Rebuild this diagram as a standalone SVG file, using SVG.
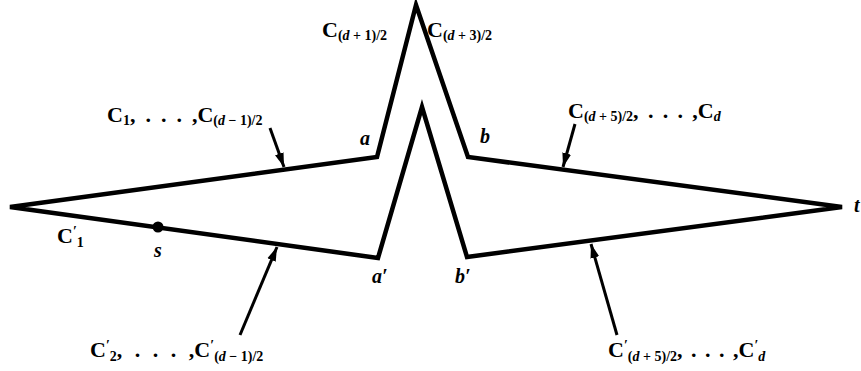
<svg xmlns="http://www.w3.org/2000/svg" width="861" height="371" viewBox="0 0 861 371">
<style>
.m{font-family:"Liberation Serif",serif;font-weight:bold;font-size:22px;fill:#000}
.s{font-size:14px}
.i{font-style:italic}
.v{font-family:"Liberation Serif",serif;font-style:italic;font-weight:bold;font-size:20px;fill:#000}
.outline{fill:none;stroke:#000;stroke-width:4.5;stroke-linejoin:miter;stroke-miterlimit:4}
.arrow{stroke:#000;stroke-width:3;fill:none}
</style>
<defs>
<marker id="ah" markerUnits="userSpaceOnUse" markerWidth="16" markerHeight="10" viewBox="-14 -5 16 10" refX="0" refY="0" orient="auto">
<path d="M0,0 L-14,-4.5 L-14,4.5 Z" fill="#000"/>
</marker>
</defs>
<rect width="861" height="371" fill="#fff"/>
<g id="figure">
<path class="outline" d="M10,207 L377,157 L416,5 L468,157 L842,207 L467,257 L422,107 L378,258 Z"/>
<circle id="s-dot" cx="158" cy="227" r="5.5" fill="#000"/>
</g>
<g id="connectors">
<line class="arrow" x1="270" y1="128" x2="284" y2="167" marker-end="url(#ah)"/>
<line class="arrow" x1="575" y1="124" x2="563" y2="167" marker-end="url(#ah)"/>
<line class="arrow" x1="240" y1="335" x2="277" y2="247" marker-end="url(#ah)"/>
<line class="arrow" x1="617" y1="335" x2="591" y2="244" marker-end="url(#ah)"/>
</g>
<g id="label-c-d1">
<text class="m" x="322" y="37">C<tspan class="s" dy="3">(<tspan class="i">d</tspan> + 1)/2</tspan></text>
</g>
<g id="label-c-d3">
<text class="m" x="427" y="37">C<tspan class="s" dy="3">(<tspan class="i">d</tspan> + 3)/2</tspan></text>
</g>
<g id="label-c1">
<text class="m" x="107" y="122">C<tspan class="s" dy="3">1</tspan><tspan dy="-3" word-spacing="4.5">, . . . ,C</tspan><tspan class="s" dy="3">(<tspan class="i">d</tspan> − 1)/2</tspan></text>
</g>
<g id="label-c-d5">
<text class="m" x="568" y="118">C<tspan class="s" dy="3">(<tspan class="i">d</tspan> + 5)/2</tspan><tspan dy="-3" word-spacing="3.8">, . . . ,C</tspan><tspan class="s i" dy="3">d</tspan></text>
</g>
<g id="label-c1p">
<text class="m" x="57" y="243">C<tspan class="s" dy="-7">′</tspan><tspan class="s" dy="11">1</tspan></text>
</g>
<g id="label-s"><text class="v" x="154" y="257">s</text></g>
<g id="label-a"><text class="v" x="360" y="145">a</text></g>
<g id="label-b"><text class="v" x="480" y="143">b</text></g>
<g id="label-t"><text class="v" x="854" y="212">t</text></g>
<g id="label-ap"><text class="v" x="372" y="283">a′</text></g>
<g id="label-bp"><text class="v" x="455" y="283">b′</text></g>
<g id="label-c2p">
<text class="m" x="90" y="357">C<tspan class="s" dy="-7">′</tspan><tspan class="s" dy="11">2</tspan><tspan dy="-4" word-spacing="7">, . . . ,C</tspan><tspan class="s" dy="-7">′</tspan><tspan class="s" dy="11">(<tspan class="i">d</tspan> − 1)/2</tspan></text>
</g>
<g id="label-c-d5p">
<text class="m" x="608" y="357">C<tspan class="s" dy="-7">′</tspan><tspan class="s" dy="11">(<tspan class="i">d</tspan> + 5)/2</tspan><tspan dy="-4" word-spacing="3">, . . . ,C</tspan><tspan class="s" dy="-7">′</tspan><tspan class="s i" dy="11">d</tspan></text>
</g>
</svg>
